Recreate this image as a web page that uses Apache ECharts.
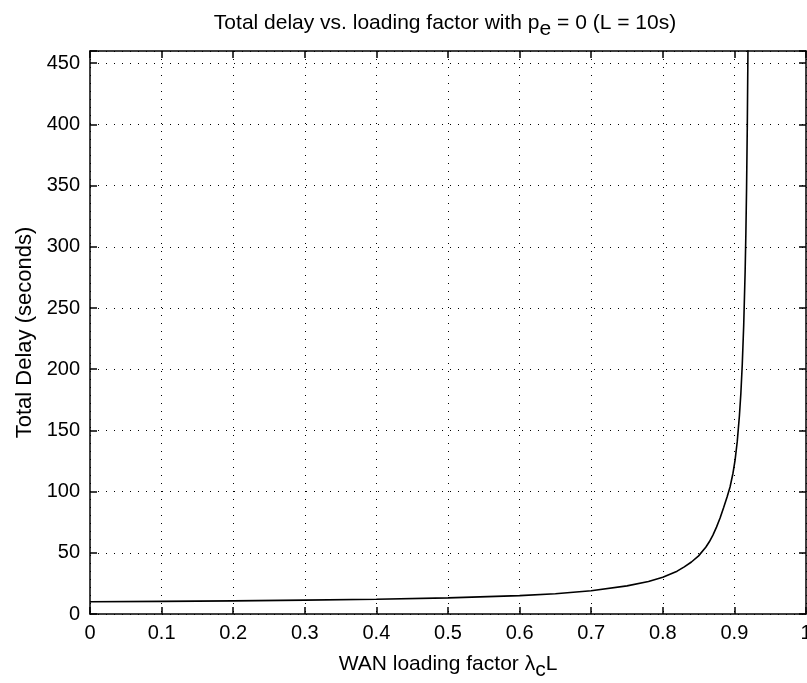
<!DOCTYPE html>
<html>
<head>
<meta charset="utf-8">
<script src="https://cdn.jsdelivr.net/npm/echarts@6/dist/echarts.min.js"></script>
<style>html,body{margin:0;padding:0;background:#fff}#c{width:807px;height:683px}</style>
</head>
<body>
<div id="c"></div>
<script>
// Loading factor (x) and total delay in seconds (y)
const loadFactor = [0, 0.1, 0.2, 0.3, 0.4, 0.5, 0.6, 0.65, 0.7, 0.75, 0.78, 0.8, 0.82, 0.83, 0.84, 0.85, 0.86, 0.865, 0.87, 0.875, 0.88, 0.885, 0.89, 0.894, 0.898, 0.901, 0.904, 0.907, 0.909, 0.911, 0.913, 0.915, 0.916, 0.917, 0.918, 0.919];
const totalDelay = [10, 10.3, 10.7, 11.3, 12.0, 13.2, 15, 16.5, 19, 23, 26.5, 30, 35, 38.5, 42.5, 47.5, 54.5, 59, 64.5, 71, 78.5, 87, 96, 104, 115, 126, 141, 162, 180, 204, 236, 280, 310, 348, 398, 465];
const xTicks = [0, 0.1, 0.2, 0.3, 0.4, 0.5, 0.6, 0.7, 0.8, 0.9, 1];
const yTicks = [0, 50, 100, 150, 200, 250, 300, 350, 400, 450];

const FONT = 'Liberation Sans';
const chart = echarts.init(document.getElementById('c'));
const data = loadFactor.map((x, i) => [x, totalDelay[i]]);
const grid = {left: 90, right: 1, top: 51, bottom: 69, containLabel: false, outerBoundsMode: 'none'};
const dotted = {color: '#000', width: 1, type: [1, 7]};
const frameAxis = {
  axisLine: {show: true, onZero: false, lineStyle: {color: '#000', width: 1.5}},
  axisTick: {show: true, inside: true, length: 7, lineStyle: {color: '#000', width: 1.5}}
};
chart.setOption({
  animation: false,
  backgroundColor: '#fff',
  title: {
    text: 'Total delay vs. loading factor with p{sub|e} = 0 (L = 10s)',
    left: 440, top: 2, textAlign: 'center',
    textStyle: {fontFamily: FONT, fontSize: 21, fontWeight: 'normal', color: '#000',
      rich: {sub: {fontFamily: FONT, fontSize: 21, color: '#000', verticalAlign: 'bottom', padding: [12, 0, 0, 0]}}}
  },
  grid: grid,
  xAxis: [Object.assign({
    type: 'value', min: 0, max: 1, interval: 0.1,
    axisLabel: {margin: 9, fontFamily: FONT, fontSize: 20, color: '#000',
      formatter: v => xTicks.includes(+v.toFixed(2)) ? String(+v.toFixed(2)) : ''},
    splitLine: {show: true, lineStyle: dotted},
    name: 'WAN loading factor λ{sub|c}L', nameLocation: 'middle', nameGap: 34,
    nameTextStyle: {fontFamily: FONT, fontSize: 21, color: '#000',
      rich: {sub: {fontFamily: FONT, fontSize: 21, color: '#000', padding: [12, 0, 0, 0]}}}
  }, frameAxis), Object.assign({
    type: 'value', min: 0, max: 1, interval: 0.1, position: 'top',
    axisLabel: {show: false}, splitLine: {show: false}
  }, frameAxis)],
  yAxis: [Object.assign({
    type: 'value', min: 0, max: 460, interval: 50,
    axisLabel: {margin: 10, fontFamily: FONT, fontSize: 20, color: '#000',
      formatter: v => yTicks.includes(v) ? String(v) : ''},
    splitLine: {show: true, lineStyle: dotted},
    name: 'Total Delay (seconds)', nameLocation: 'middle', nameGap: 52,
    nameTextStyle: {fontFamily: FONT, fontSize: 22, color: '#000'}
  }, frameAxis), Object.assign({
    type: 'value', min: 0, max: 460, interval: 50, position: 'right',
    axisLabel: {show: false}, splitLine: {show: false}
  }, frameAxis)],
  series: [{
    type: 'line', data: data, showSymbol: false, smooth: false, clip: true,
    lineStyle: {color: '#000', width: 1.6}
  }]
});
</script>
</body>
</html>
